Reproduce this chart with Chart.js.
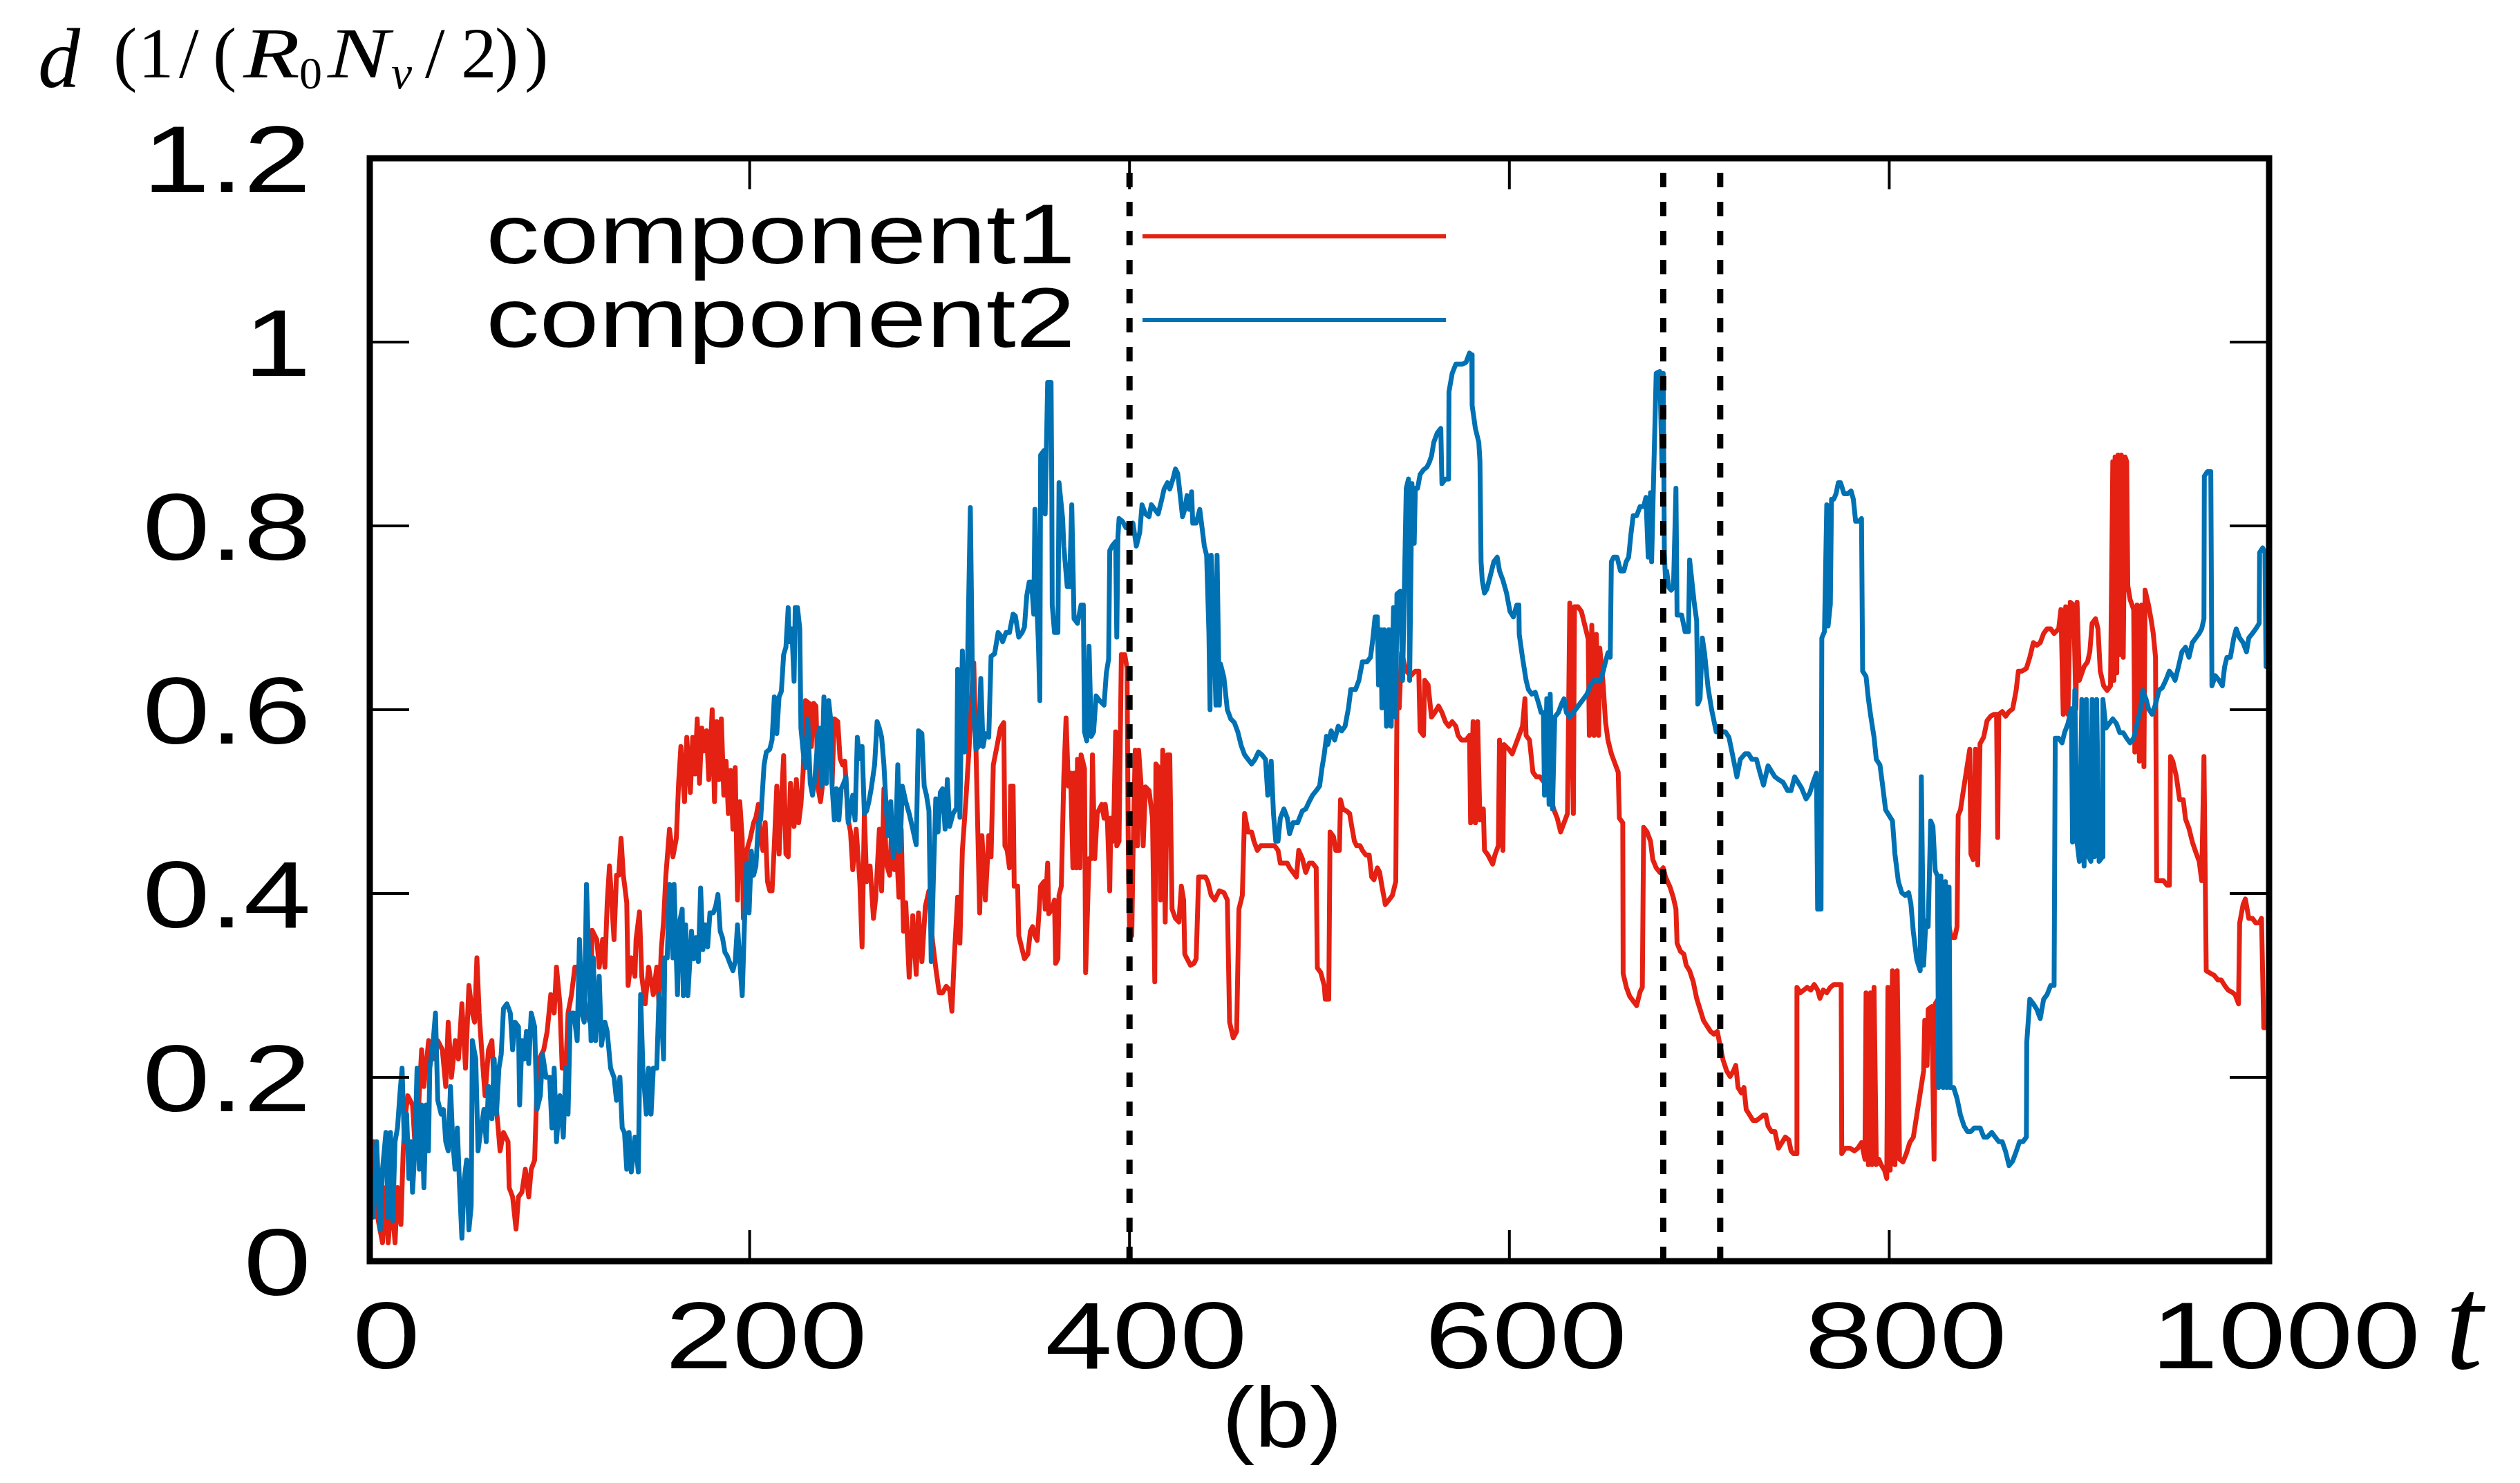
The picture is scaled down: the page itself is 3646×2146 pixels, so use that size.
<!DOCTYPE html>
<html>
<head>
<meta charset="utf-8">
<script src="https://cdn.jsdelivr.net/npm/chart.js@4.4.1/dist/chart.umd.min.js"></script>
<style>
  html, body { margin: 0; padding: 0; background: #fff; }
  canvas { display: block; }
</style>
</head>
<body>
<canvas id="chart" width="3646" height="2146"></canvas>
<script>
const xTicks = [0, 200, 400, 600, 800, 1000];
const xTickLabels = ["0", "200", "400", "600", "800", "1000"];
const yTicks = [0, 0.2, 0.4, 0.6, 0.8, 1, 1.2];
const yTickLabels = ["0", "0.2", "0.4", "0.6", "0.8", "1", "1.2"];
const markerT = [400, 681, 711];
const seriesNames = ["component1", "component2"];

// [t, d]
const comp1 = [
  [0,0.13],[2,0.13],[3,0.06],[6.7,0.02],[8.5,0.08],[9.7,0.02],[11.5,0.07],[13.3,0.02],[14.6,0.08],[16.4,0.04],[17.6,0.12],[18.8,0.16],[20,0.18],[22.5,0.17],[23.7,0.13],[25.5,0.16],[27.3,0.23],[28.5,0.19],[31,0.24],[33.4,0.22],[35.8,0.24],[38.2,0.23],[40,0.19],[41.3,0.26],[43,0.2],[45,0.24],[46.7,0.22],[48.5,0.28],[50.4,0.21],[52.2,0.3],[54,0.27],[55.2,0.26],[56.4,0.33],[57.6,0.27],[58.9,0.23],[60.7,0.18],[62.5,0.23],[64.3,0.24],[65.5,0.19],[67.4,0.15],[68.6,0.12],[70.4,0.14],[72.8,0.13],[73.4,0.08],[75.2,0.07],[77,0.035],[78.3,0.07],[80.1,0.075],[81.9,0.1],[83.7,0.07],[85,0.1],[86.8,0.11],[88,0.19],[89.2,0.22],[91.6,0.23],[93.4,0.25],[95.3,0.29],[97.1,0.27],[98.3,0.32],[100.1,0.28],[101.3,0.21],[103.2,0.21],[104.4,0.27],[106.2,0.29],[108,0.32],[109.8,0.32],[111.7,0.3],[114.1,0.27],[115.9,0.26],[117.1,0.36],[119.5,0.35],[120.8,0.32],[122.6,0.35],[123.8,0.32],[125,0.39],[126.2,0.43],[127.4,0.39],[128.6,0.35],[129.9,0.42],[131.1,0.42],[132.3,0.46],[133.5,0.42],[135.3,0.39],[136,0.3],[137.7,0.33],[139.6,0.31],[140.2,0.35],[142,0.38],[143.2,0.31],[145,0.28],[146.8,0.32],[149.3,0.29],[151.1,0.32],[152.3,0.28],[153.5,0.34],[154.7,0.37],[155.9,0.42],[157.8,0.47],[159.6,0.44],[161.4,0.46],[162.6,0.52],[163.8,0.56],
  [165.7,0.5],[166.9,0.57],[168.8,0.51],[170,0.57],[171.2,0.53],[172.4,0.59],[173.6,0.52],[174.8,0.58],[176,0.555],[177.3,0.577],[178.5,0.524],[180.3,0.6],[181.5,0.5],[182.7,0.587],[183.9,0.524],[185.1,0.59],[186.4,0.507],[187.6,0.544],[188.8,0.487],[190,0.534],[191.2,0.47],[192.4,0.537],[193.6,0.393],[194.8,0.5],[196.1,0.46],[196.7,0.373],[198.5,0.447],[200.3,0.46],[202.1,0.477],[203.3,0.483],[204.6,0.497],[205.8,0.46],[207,0.447],[208.2,0.477],[209.4,0.413],[210.6,0.403],[211.8,0.403],[213,0.453],[214.3,0.517],[215.5,0.443],[216.7,0.5],[217.9,0.55],[219.1,0.443],[220.3,0.44],[221.5,0.52],[223.4,0.473],[224.6,0.524],[225.8,0.477],[227,0.497],[228.2,0.534],[229.4,0.61],[231.3,0.607],[232.5,0.56],[233.7,0.607],[234.9,0.604],[236.1,0.514],[237.3,0.5],[238.5,0.52],[239.7,0.534],[241,0.547],[242.2,0.58],[243.4,0.52],[244.6,0.59],[246.4,0.587],[247.6,0.547],[248.9,0.54],[250.1,0.544],[251.9,0.48],[253.1,0.467],[254.3,0.426],[256.1,0.47],[258,0.413],[259.2,0.342],[260.4,0.487],[261.6,0.413],[263.4,0.43],[265.2,0.373],[266.4,0.396],[268.3,0.47],[269.5,0.403],[270.7,0.514],[271.9,0.433],[273.7,0.42],[274.9,0.477],[276.2,0.426],[277.4,0.447],[278.6,0.396],[279.8,0.47],[281,0.359],[282.2,0.39],[284,0.309],[285.9,0.376],[287.7,0.312],[288.9,0.379],[290.7,0.326],[292.5,0.386],[294.4,0.403],[296.2,0.35],[298,0.319],[299.8,0.292],[301.6,0.292],[303.5,0.299],[305.3,0.295],[306.5,0.272],[307.7,0.329],[309.5,0.396],[310.7,0.346],[312,0.447],[313.8,0.5],[315.6,0.56],[316.8,0.614],[318,0.651],[319.2,0.554],[321.1,0.379],[322.3,0.463],[324.1,0.393],[325.9,0.463],[327.1,0.44],[328.3,0.54],[330.2,0.56],[332,0.58],
  [333.8,0.586],[334.4,0.452],[335.6,0.447],[336.8,0.428],[337.4,0.517],[338.7,0.517],[339.3,0.408],[341.1,0.408],[341.7,0.354],[343.5,0.339],[344.7,0.329],[346.5,0.334],[347.8,0.359],[349,0.364],[350.2,0.354],[351.4,0.349],[352.6,0.388],[353.2,0.408],[355,0.413],[355.6,0.383],[356.9,0.433],[357.5,0.378],[359.3,0.383],[360.5,0.393],[361.1,0.324],[362.3,0.329],[362.9,0.398],[364.1,0.408],[365.4,0.526],[366.6,0.591],[367.8,0.517],[369,0.531],[370.2,0.428],[370.8,0.531],[372,0.428],[372.6,0.546],[373.9,0.428],[374.5,0.551],[376.3,0.536],[376.9,0.314],[378.7,0.438],[379.9,0.438],[380.5,0.551],[381.7,0.438],[383,0.487],[384.2,0.492],[385.4,0.497],[386.6,0.482],[387.2,0.497],[388.4,0.477],[389.6,0.403],[390.2,0.482],[391.5,0.457],[392.7,0.576],[393.3,0.452],[394.5,0.457],[395.7,0.66],[397.5,0.66],[398.7,0.645],[399.3,0.462],[400,0.359],[401.2,0.354],[401.8,0.438],[403,0.556],[404.2,0.452],[404.8,0.556],[406,0.521],[407.2,0.452],[408.4,0.516],[410.3,0.512],[412.1,0.482],[413.3,0.304],[413.9,0.541],[415.7,0.536],[416.3,0.393],[417.5,0.556],[418.8,0.369],[420,0.551],[421.2,0.551],[422.4,0.383],[424.2,0.373],[426,0.369],[427.3,0.408],[428.5,0.393],[429.1,0.334],[430.3,0.329],[432.1,0.322],[433.9,0.324],[435.1,0.329],[436.4,0.418],[438.2,0.418],[440,0.418],[441.2,0.413],[443,0.398],[444.9,0.393],[447.3,0.403],[449.7,0.401],[451.5,0.393],[452.7,0.26],[454.6,0.243],[456.4,0.25],[457.6,0.383],[459.4,0.398],[460.6,0.487],[462.4,0.467],[464.3,0.467],[465.5,0.457],[467.3,0.447],[469.1,0.452],[471.6,0.452],[474,0.452],[476.4,0.452],[478.2,0.447],[479.4,0.433],[481.3,0.433],[483.1,0.433],[484.3,0.428],[486.1,0.423],[487.9,0.418],[489.1,0.447],[491,0.438],[492.8,0.423],[494.6,0.433],[496.4,0.433],[498.3,0.428],[498.9,0.319],[500.7,0.314],[502.5,0.3],[503.1,0.285],[504.9,0.285],
  [505.6,0.467],[507.4,0.462],[508.6,0.447],[510.5,0.447],[511.1,0.502],[512.3,0.492],[514.1,0.49],[515.9,0.487],[517.1,0.472],[518.4,0.457],[519.6,0.452],[521.4,0.452],[522.6,0.447],[524.4,0.442],[526.2,0.442],[527.5,0.418],[528.7,0.415],[530.5,0.428],[531.7,0.423],[532.9,0.408],[534.7,0.388],[536.6,0.393],[538.4,0.398],[540.2,0.413],[540.8,0.602],[542,0.602],[543.2,0.662],[545.7,0.642],[548.1,0.637],[550.5,0.642],[552.3,0.642],[553,0.577],[554.8,0.572],[555.4,0.632],[557.2,0.627],[559,0.592],[560.8,0.597],[562.7,0.604],[564.5,0.597],[566.3,0.587],[568.1,0.582],[569.9,0.587],[571.8,0.582],[573,0.572],[574.8,0.567],[577.2,0.567],[579,0.572],[579.6,0.477],[580.9,0.587],[582.1,0.477],[583.3,0.587],[584.5,0.48],[586.3,0.492],[586.9,0.447],[588.7,0.442],[591.2,0.432],[592.4,0.442],[594.2,0.452],[594.8,0.567],[596.6,0.447],[597.2,0.562],[599.7,0.557],[601.5,0.552],[603.3,0.562],[605.1,0.572],[606.9,0.582],[608.2,0.612],[608.8,0.572],[610.6,0.567],[612.4,0.532],[614.2,0.527],[616.1,0.527],[617.9,0.522],[619.7,0.517],[621.5,0.507],[623.3,0.492],[625.2,0.482],[627,0.467],[628.8,0.477],[630.6,0.487],[631.8,0.716],[633.7,0.487],[634.3,0.712],[636.1,0.712],[637.9,0.707],[639.7,0.692],[641.5,0.677],[642.1,0.572],[643.4,0.692],[644.6,0.572],[645.8,0.682],[647,0.572],[647.6,0.667],[649.4,0.627],[650.6,0.587],[651.9,0.567],[653.7,0.552],[655.5,0.542],[657.3,0.532],[657.9,0.482],[659.7,0.477],[659.9,0.313],[661.6,0.298],[663.4,0.288],[665.2,0.283],[667,0.278],[668.8,0.293],[670,0.298],[670.7,0.472],[672.5,0.467],[674.3,0.457],[675.5,0.437],[677.3,0.428],[679.2,0.423],[681,0.428],[682.2,0.418],
  [684.6,0.407],[686.4,0.395],[687.7,0.383],[688.3,0.346],[690.1,0.337],[691.9,0.334],[693.1,0.322],[694.9,0.316],[696.8,0.304],[698.6,0.286],[700.4,0.274],[702.2,0.262],[704,0.256],[705.9,0.25],[707.7,0.247],[709.5,0.25],[710.7,0.237],[712.5,0.219],[714.4,0.207],[716.2,0.201],[718,0.207],[719.2,0.213],[720.4,0.189],[722.2,0.183],[723.5,0.189],[724.7,0.165],[726.5,0.159],[728.3,0.153],[730.1,0.153],[732,0.156],[733.8,0.159],[735,0.159],[736.2,0.147],[738,0.141],[739.8,0.141],[741.7,0.123],[743.5,0.129],[745.3,0.135],[747.1,0.132],[748.3,0.12],[749.5,0.117],[751.1,0.117],[751.4,0.298],[753.2,0.292],[755,0.295],[756.8,0.298],[758.7,0.295],[760.5,0.301],[762.3,0.295],[763.5,0.286],[765.3,0.295],[767.1,0.292],[769,0.298],[770.8,0.301],[772.6,0.301],[774.7,0.301],[775,0.117],[776.9,0.123],[779.3,0.123],[781.7,0.12],[783.5,0.123],[785.4,0.129],[787.2,0.111],[787.8,0.292],[789,0.105],[790.2,0.292],[790.8,0.105],[792,0.298],[793.2,0.105],[794.5,0.111],[795.7,0.105],[797.5,0.099],[798.7,0.09],[799.3,0.298],[800.5,0.099],[801.7,0.316],[803,0.105],[804.2,0.316],[805.4,0.111],[807.2,0.108],[809,0.117],[810.8,0.129],[812.7,0.135],[814.5,0.159],[816.3,0.183],[818.1,0.207],[818.7,0.262],[819.9,0.213],[820.5,0.274],[822.4,0.277],[823.6,0.111],[824.2,0.28],[826,0.286],[827.2,0.268],[829,0.195],[830.9,0.195],[831.5,0.364],[832.7,0.352],[834.5,0.352],[835.7,0.364],[836.3,0.485],[837.5,0.491],[838.8,0.509],[840.6,0.533],[842.4,0.557],[843,0.443],[844.2,0.437],[845.4,0.557],[846.6,0.431],[847.8,0.563],[849.7,0.57],[851.5,0.588],
  [853.4,0.593],[855.2,0.595],[856.5,0.595],[857.1,0.461],[857.7,0.595],[859.5,0.598],[861.3,0.593],[863.1,0.598],[865,0.601],[866.8,0.621],[868,0.642],[869.8,0.642],[872.2,0.645],[874,0.657],[875.9,0.673],[877.7,0.67],[879.5,0.673],[881.3,0.683],[883.1,0.688],[885,0.688],[886.8,0.683],[889.2,0.688],[890.4,0.709],[891.6,0.595],[892.9,0.712],[894.1,0.595],[895.3,0.717],[897.1,0.714],[898.3,0.601],[898.9,0.717],[900.1,0.632],[902.6,0.647],[904.4,0.652],[905.6,0.663],[906.8,0.694],[908.6,0.699],[909.9,0.688],[911.1,0.642],[912.9,0.626],[914.7,0.621],[916.5,0.626],[917.7,0.87],[918.3,0.632],[918.9,0.875],[919.8,0.64],[920.5,0.877],[921.4,0.66],[922.2,0.877],[923.2,0.657],[924.2,0.875],[925,0.87],[925.6,0.735],[926.8,0.72],[928.7,0.709],[929.3,0.554],[930.5,0.714],[931.7,0.544],[932.9,0.714],[934.1,0.538],[934.7,0.73],[936.5,0.714],[937.8,0.699],[939,0.683],[940.2,0.657],[940.8,0.414],[942.6,0.414],[944.4,0.414],[946.3,0.409],[947.5,0.409],[948.1,0.549],[949.3,0.544],[951.1,0.528],[952.9,0.502],[954.8,0.502],[956,0.481],[957.8,0.471],[959.6,0.456],[961.4,0.445],[963.2,0.435],[964.5,0.414],[965.7,0.549],[966.9,0.316],[969.3,0.313],[971.1,0.311],[973,0.306],[974.8,0.306],[976.6,0.3],[978.4,0.295],[980.2,0.293],[982.1,0.29],[983.9,0.28],[984.5,0.368],[986.3,0.388],[987.5,0.394],[989.3,0.373],[991.2,0.373],[993,0.368],[994.8,0.368],[996,0.373],[997.2,0.254],[1000,0.254]
];

const comp2 = [
  [0,0.1],[2,0.048],[3.6,0.13],[5.5,0.034],[6.7,0.1],[8.5,0.14],[9.7,0.048],[10.9,0.14],[12.1,0.044],[13.3,0.13],[14.6,0.145],[15.8,0.18],[17,0.21],[18.2,0.13],[19.4,0.16],[20.6,0.09],[21.8,0.13],[22.5,0.075],[23.7,0.12],[24.9,0.21],[26.1,0.1],[27.3,0.17],[28.5,0.08],[29.7,0.17],[30.9,0.12],[31.6,0.21],[32.2,0.22],[33.4,0.24],[34.6,0.27],[35.8,0.175],[37.6,0.16],[38.8,0.165],[40,0.13],[41.3,0.12],[42.5,0.19],[43.7,0.13],[44.9,0.1],[46.1,0.145],[47.3,0.08],[48.5,0.025],[49.8,0.09],[51,0.11],[52.2,0.034],[53.4,0.06],[54,0.24],[55.8,0.22],[57,0.12],[58.3,0.14],[60.1,0.165],[61.3,0.13],[62.5,0.19],[64.3,0.155],[65.5,0.22],[66.7,0.16],[68,0.21],[69.2,0.225],[70.4,0.275],[72.2,0.28],[74,0.27],[75.2,0.23],[76.5,0.26],[78.3,0.255],[78.9,0.17],[80.1,0.24],[81.3,0.22],[82.5,0.25],[83.7,0.215],[85,0.27],[86.8,0.255],[88,0.165],[89.8,0.18],[91,0.225],[92.8,0.2],[94.7,0.2],[95.9,0.145],[97.1,0.21],[98.3,0.13],[100.1,0.18],[101.9,0.135],[103.2,0.21],[104.4,0.16],[105.6,0.27],[107.4,0.27],[109.2,0.24],[110.4,0.35],[111.7,0.27],[112.9,0.26],[114.1,0.41],[115.3,0.33],[116.5,0.24],[117.7,0.33],[118.9,0.24],[120.8,0.31],[122,0.235],[123.8,0.26],[125,0.25],[126.8,0.21],[128.6,0.2],[129.9,0.175],[131.7,0.2],[132.9,0.145],[134.1,0.14],[135.3,0.1],[136.5,0.14],[137.7,0.097],[139.6,0.135],[141.4,0.097],[142.6,0.29],[143.8,0.21],[145.6,0.16],[146.8,0.21],[148.1,0.16],[149.3,0.21],[151.1,0.21],[152.3,0.29],[153.5,0.27],[154.7,0.22],[155.3,0.33],[156.6,0.33],[157.8,0.41],[159.6,0.33],[160.2,0.41],[162,0.29],[163.2,0.37],
  [164.5,0.383],[165.1,0.289],[166.3,0.366],[167.5,0.289],[169.4,0.359],[170.6,0.329],[171.8,0.352],[173,0.326],[174.2,0.406],[175.4,0.339],[176.6,0.366],[177.9,0.342],[179.1,0.379],[180.9,0.379],[182.1,0.386],[183.3,0.399],[184.5,0.359],[185.7,0.352],[187,0.336],[188.2,0.332],[190,0.322],[191.2,0.316],[192.4,0.326],[193.6,0.366],[194.8,0.326],[196.1,0.289],[197.3,0.369],[198.5,0.433],[199.7,0.379],[200.9,0.446],[202.1,0.42],[203.3,0.43],[204.6,0.477],[205.8,0.48],[207,0.52],[207.6,0.54],[208.8,0.554],[210.6,0.557],[211.8,0.567],[213,0.614],[214.3,0.574],[215.5,0.614],[216.7,0.62],[217.9,0.66],[219.1,0.668],[220.3,0.711],[220.9,0.674],[222.2,0.688],[223.4,0.631],[224,0.711],[225.2,0.711],[226.4,0.688],[227,0.58],[228.2,0.554],[229.4,0.537],[230.6,0.59],[231.9,0.52],[233.1,0.507],[234.3,0.524],[235.5,0.557],[236.7,0.58],[237.9,0.517],[239.1,0.614],[240.4,0.52],[241.6,0.61],[242.8,0.587],[243.4,0.517],[244.6,0.48],[245.8,0.514],[247,0.48],[248.2,0.514],[249.5,0.52],[250.7,0.527],[251.9,0.477],[253.1,0.493],[254.3,0.507],[255.5,0.48],[256.7,0.57],[258,0.547],[259.2,0.56],[260.4,0.487],[261.6,0.49],[262.8,0.5],[264,0.514],[265.8,0.54],[267.1,0.587],[268.3,0.58],[269.5,0.57],[270.7,0.54],[271.9,0.493],[273.1,0.463],[274.3,0.5],[275.6,0.44],[276.8,0.453],[278,0.54],[279.2,0.446],[280.4,0.517],[282.2,0.5],[284,0.487],[285.9,0.47],[287.7,0.453],[288.9,0.577],[290.7,0.574],[291.9,0.517],[293.1,0.507],[294.4,0.49],[295.6,0.326],[296.8,0.42],[298,0.503],[299.2,0.467],[300.4,0.51],[301.6,0.514],[302.9,0.47],[304.1,0.524],[305.3,0.473],[307.1,0.487],[308.9,0.493],[309.5,0.644],[310.7,0.483],[312,0.664],[313.2,0.554],[314.4,0.614],[316.2,0.82],[317.4,0.62],[319.2,0.557],[320.5,0.56],[321.7,0.634],[322.9,0.56],[324.1,0.574],[325.9,0.57],[327.1,0.658],[329,0.661],[330.8,0.684],[332,0.681],
  [333.2,0.674],[335,0.684],[336.8,0.684],[338.7,0.704],[339.9,0.702],[341.7,0.679],[343.5,0.684],[344.7,0.69],[345.9,0.724],[347.2,0.739],[348.4,0.739],[349.6,0.704],[350.2,0.818],[351.4,0.704],[352,0.674],[352.8,0.61],[353.2,0.877],[355,0.882],[355.6,0.813],[356.9,0.956],[358.7,0.956],[359.1,0.833],[359.3,0.714],[360.5,0.684],[362.3,0.684],[362.9,0.847],[364.8,0.808],[365.4,0.778],[367.2,0.734],[368.4,0.734],[369.6,0.823],[370.8,0.699],[372.6,0.694],[374.5,0.714],[375.7,0.714],[376.3,0.576],[377.5,0.566],[378.7,0.669],[379.9,0.571],[381.1,0.576],[382.4,0.615],[384.2,0.61],[386.6,0.605],[387.8,0.64],[389,0.655],[389.6,0.773],[390.8,0.778],[392.7,0.783],[393.3,0.679],[393.9,0.788],[394.5,0.808],[396.3,0.805],[398.1,0.798],[400,0.798],[401.8,0.803],[403.6,0.778],[405.4,0.793],[406.6,0.823],[408.4,0.813],[410.3,0.81],[411.5,0.823],[413.3,0.818],[415.1,0.813],[416.9,0.828],[418.2,0.84],[420,0.847],[421.2,0.84],[423,0.852],[424.2,0.862],[425.4,0.857],[426.7,0.833],[427.9,0.81],[429.1,0.818],[430.3,0.833],[431.5,0.818],[432.7,0.837],[433.3,0.803],[435.1,0.803],[437,0.818],[438.2,0.798],[439.4,0.778],[440.6,0.768],[441.8,0.684],[442.4,0.6],[443,0.768],[444.2,0.704],[445.5,0.605],[446.1,0.768],[447.3,0.605],[447.9,0.65],[449.7,0.635],[451.5,0.6],[453.3,0.59],[455.2,0.586],[457,0.576],[458.8,0.561],[460.6,0.551],[462.4,0.546],[464.3,0.541],[466.1,0.546],[467.9,0.554],[469.7,0.551],[471.6,0.546],[472.8,0.507],[474.6,0.544],[475.8,0.487],[477,0.457],[478.2,0.457],[479.4,0.482],[481.3,0.492],[483.1,0.482],[484.3,0.465],[486.1,0.477],[488.5,0.477],[491,0.49],[492.8,0.492],[494.6,0.5],[496.4,0.507],[498.3,0.512],[500.1,0.517],[501.3,0.536],[502.5,0.551],[503.7,0.571],
  [504.4,0.562],[506.2,0.577],[508,0.567],[509.9,0.582],[511.7,0.577],[513.5,0.582],[515.3,0.602],[516.5,0.622],[519,0.622],[520.8,0.632],[522.6,0.652],[525,0.652],[526.9,0.657],[528.1,0.677],[529.3,0.701],[530.5,0.701],[531.1,0.627],[532.3,0.687],[532.9,0.602],[534.1,0.687],[535.3,0.582],[536.6,0.687],[537.8,0.582],[539,0.711],[540.2,0.592],[540.8,0.726],[542.6,0.729],[543.8,0.632],[545.7,0.841],[546.9,0.851],[547.5,0.632],[548.7,0.846],[549.9,0.781],[550.5,0.841],[551.7,0.841],[553,0.856],[554.8,0.861],[556.6,0.864],[557.8,0.869],[559,0.876],[560.2,0.891],[562,0.901],[563.9,0.906],[564.5,0.846],[566.3,0.851],[568,0.851],[568.2,0.946],[569.9,0.966],[571.8,0.976],[573.6,0.976],[575.4,0.976],[577.2,0.978],[579,0.988],[580.2,0.986],[580.4,0.931],[582.1,0.906],[583.9,0.891],[584.5,0.871],[585.1,0.761],[585.7,0.741],[586.9,0.727],[588.1,0.731],[590,0.746],[591.8,0.761],[593.6,0.766],[594.8,0.751],[596.6,0.741],[598.5,0.727],[600.3,0.707],[602.1,0.701],[603.9,0.714],[605,0.714],[605.2,0.682],[606.9,0.657],[608.8,0.632],[610,0.622],[611.8,0.617],[613.6,0.619],[615.4,0.607],[616.7,0.597],[617.9,0.597],[618.5,0.507],[619.7,0.612],[620.9,0.497],[621.5,0.617],[622.7,0.492],[623.9,0.592],[625.8,0.597],[627.6,0.607],[628.8,0.612],[630,0.597],[631.8,0.592],[633.7,0.597],[635.5,0.602],[637.3,0.607],[639.1,0.612],[640.9,0.617],[642.8,0.627],[644.6,0.632],[646.4,0.632],[648.2,0.632],[649.4,0.642],[650.6,0.652],[651.9,0.662],[653.1,0.657],[653.7,0.761],[654.9,0.766],[656.7,0.766],[658.5,0.751],[660.3,0.751],[661.5,0.761],[662.8,0.766],[664,0.791],[665.2,0.811],[667,0.811],[668.8,0.821],[670.7,0.821],[671.9,0.831],[673.1,0.766],[674.3,0.836],[674.9,0.761],[676.1,0.866],[677.3,0.966],[679.2,0.968],[680.4,0.861],[681,0.966],[681.6,0.771],[682.2,0.741],
  [682.8,0.751],[684,0.733],[685.2,0.73],[686.4,0.733],[687.7,0.841],[688.3,0.703],[690.7,0.703],[692.5,0.685],[694.3,0.685],[694.9,0.763],[697.4,0.715],[698.6,0.697],[699.2,0.606],[700.4,0.612],[701.6,0.678],[702.8,0.661],[704.6,0.624],[706.5,0.6],[708.9,0.576],[711.3,0.576],[713.7,0.576],[715.6,0.57],[717.4,0.552],[719.8,0.527],[721.6,0.546],[724.1,0.552],[725.9,0.552],[727.7,0.546],[730.1,0.546],[732,0.531],[733.8,0.518],[736.2,0.539],[738,0.533],[739.8,0.527],[741.7,0.524],[744.1,0.521],[746.5,0.512],[748.3,0.512],[750.2,0.527],[752,0.521],[753.8,0.515],[756.2,0.503],[758.1,0.509],[759.9,0.521],[761.7,0.531],[762.3,0.383],[764.1,0.383],[764.5,0.678],[765.9,0.685],[767.1,0.823],[767.8,0.691],[769,0.715],[769.6,0.829],[770.8,0.829],[772,0.835],[773.2,0.847],[774.4,0.847],[776.2,0.835],[778.1,0.835],[779.9,0.838],[781.1,0.829],[782.3,0.805],[784.1,0.805],[785.4,0.808],[786,0.642],[787.8,0.636],[789,0.612],[790.2,0.594],[792,0.57],[793.2,0.546],[795.1,0.54],[796.3,0.521],[798.1,0.491],[799.9,0.485],[801.7,0.479],[803,0.443],[804.8,0.413],[806.6,0.401],[808.4,0.398],[810.2,0.401],[811.4,0.389],[812.7,0.358],[814.5,0.328],[816.3,0.316],[816.9,0.527],[818.1,0.322],[819.3,0.37],[820.5,0.364],[821.8,0.479],[823,0.473],[824.2,0.425],[825.4,0.419],[826,0.189],[827.2,0.419],[828.4,0.189],[829.6,0.413],[830.3,0.189],[831.5,0.407],[832.1,0.189],[833.9,0.189],[835.7,0.177],[837.5,0.159],[839.4,0.147],[841.2,0.141],[843,0.141],
  [844.8,0.145],[847.9,0.145],[849.8,0.135],[851.6,0.135],[854,0.14],[855.8,0.135],[857.7,0.13],[859.5,0.13],[861.3,0.119],[863.1,0.104],[865,0.109],[866.8,0.119],[868.6,0.13],[870.4,0.13],[872.2,0.135],[872.4,0.238],[874,0.285],[875.9,0.28],[877.7,0.274],[879.5,0.264],[881.3,0.285],[883.1,0.29],[885,0.3],[886.8,0.3],[887.4,0.569],[889.2,0.569],[891,0.564],[892.3,0.575],[894.1,0.585],[895.9,0.601],[896.5,0.456],[897.7,0.621],[898.9,0.456],[900.1,0.435],[901.4,0.611],[902.6,0.43],[903.8,0.611],[905,0.44],[906.2,0.435],[906.8,0.611],[908,0.44],[909.2,0.611],[910.5,0.435],[912.3,0.44],[912.5,0.611],[914.1,0.58],[915.9,0.585],[917.7,0.59],[919.6,0.585],[921.4,0.575],[923.2,0.575],[925,0.569],[926.8,0.564],[928.7,0.569],[930.5,0.585],[932.3,0.601],[933.5,0.621],[935.3,0.611],[936.5,0.601],[938.4,0.595],[940.2,0.606],[942,0.621],[943.8,0.624],[945.6,0.632],[947.5,0.642],[949.3,0.637],[950.5,0.632],[952.3,0.647],[954.1,0.663],[956,0.668],[957.8,0.657],[959.6,0.673],[961.4,0.678],[963.2,0.683],[964.5,0.688],[965.7,0.699],[965.9,0.854],[967.5,0.859],[969.3,0.859],[969.9,0.626],[971.7,0.637],[973.6,0.632],[975.4,0.626],[976.6,0.647],[977.8,0.657],[979.6,0.657],[981.4,0.678],[982.7,0.688],[984.5,0.678],[986.3,0.673],[988.1,0.663],[989.3,0.678],[991.2,0.683],[993,0.688],[994.8,0.694],[995,0.771],[996.6,0.776],[997.8,0.771],[998.4,0.647],[1000,0.65]
];

const RED = "#e42112";
const BLUE = "#0071b3";
const SANS = '"Liberation Sans", Arial, Helvetica, sans-serif';
const SERIF = '"Liberation Serif", "Times New Roman", serif';

function toPoints(pairs) {
    return pairs.map(p => ({ x: p[0], y: p[1] }));
}

// gnuplot's Helvetica here is drawn wide, so text gets a horizontal stretch
function drawText(ctx, text, x, y, font, align, sx) {
    ctx.save();
    ctx.font = font;
    ctx.textAlign = align;
    ctx.textBaseline = "alphabetic";
    ctx.fillStyle = "#000";
    ctx.translate(x, y);
    ctx.scale(sx || 1, 1);
    ctx.fillText(text, 0, 0);
    ctx.restore();
}

const framePlugin = {
    id: "frame",
    afterDraw(chart) {
        const { ctx, chartArea: a } = chart;
        const xs = chart.scales.x;
        const ys = chart.scales.y;

        ctx.save();
        ctx.strokeStyle = "#000";
        ctx.lineWidth = 4;
        ctx.beginPath();
        xTicks.forEach(v => {
            const px = xs.getPixelForValue(v);
            ctx.moveTo(px, a.bottom);
            ctx.lineTo(px, a.bottom - 45);
            ctx.moveTo(px, a.top);
            ctx.lineTo(px, a.top + 45);
        });
        yTicks.forEach(v => {
            const py = ys.getPixelForValue(v);
            ctx.moveTo(a.left, py);
            ctx.lineTo(a.left + 57, py);
            ctx.moveTo(a.right, py);
            ctx.lineTo(a.right - 57, py);
        });
        ctx.stroke();
        ctx.lineWidth = 9;
        ctx.strokeRect(a.left, a.top, a.right - a.left, a.bottom - a.top);
        ctx.restore();

        // tick labels
        const tickFont = "138px " + SANS;
        xTicks.forEach((v, i) => {
            drawText(ctx, xTickLabels[i], xs.getPixelForValue(v) + 24, 1980, tickFont, "center", 1.27);
        });
        yTicks.forEach((v, i) => {
            drawText(ctx, yTickLabels[i], 450, ys.getPixelForValue(v) + 49, tickFont, "right", 1.27);
        });

        // legend
        const legendFont = "123px " + SANS;
        const rows = [342, 463];
        [0, 1].forEach(i => {
            const ds = chart.data.datasets[i];
            drawText(ctx, ds.label, 1556, rows[i] + 39, legendFont, "right", 1.26);
            ctx.save();
            ctx.strokeStyle = ds.borderColor;
            ctx.lineWidth = 6;
            ctx.beginPath();
            ctx.moveTo(1653, rows[i]);
            ctx.lineTo(2092, rows[i]);
            ctx.stroke();
            ctx.restore();
        });

        // y axis title: d (1/(R_0 N_v/2))
        const it = sz => "italic " + sz + "px " + SERIF;
        const rm = sz => sz + "px " + SERIF;
        drawText(ctx, "d", 55, 126, it(122), "left");
        drawText(ctx, "(", 164, 112, rm(103), "left");
        drawText(ctx, "1", 200, 112, rm(103), "left");
        drawText(ctx, "/", 259, 112, rm(103), "left");
        drawText(ctx, "(", 308, 112, rm(103), "left");
        drawText(ctx, "R", 352, 112, it(103), "left", 1.3);
        drawText(ctx, "0", 433, 128, rm(66), "left");
        drawText(ctx, "N", 474, 112, it(103), "left", 1.3);
        drawText(ctx, "v", 566, 128, it(68), "left");
        drawText(ctx, "/", 615, 112, rm(103), "left");
        drawText(ctx, "2", 667, 112, rm(103), "left");
        drawText(ctx, ")", 716, 112, rm(103), "left");
        drawText(ctx, ")", 759, 112, rm(103), "left");

        // x axis title and panel tag
        drawText(ctx, "t", 3538, 1980, it(195), "left");
        drawText(ctx, "(b)", 1855, 2094, "124px " + SANS, "center", 1.15);
    }
};

const datasets = [
    {
        label: seriesNames[0],
        data: toPoints(comp1),
        borderColor: RED,
        borderWidth: 7,
        order: 2
    },
    {
        label: seriesNames[1],
        data: toPoints(comp2),
        borderColor: BLUE,
        borderWidth: 7,
        order: 1
    }
].concat(markerT.map(t => ({
    label: "",
    data: [{ x: t, y: 1.2 }, { x: t, y: 0 }],
    borderColor: "#000",
    borderWidth: 9,
    borderDash: [21, 21],
    borderDashOffset: 21,
    order: 0
})));

new Chart(document.getElementById("chart"), {
    type: "line",
    data: { datasets },
    options: {
        responsive: false,
        animation: false,
        devicePixelRatio: 1,
        parsing: false,
        layout: {
            padding: { left: 535, right: 363, top: 229, bottom: 321 }
        },
        elements: {
            point: { radius: 0 },
            line: { tension: 0, borderJoinStyle: "round", borderCapStyle: "butt" }
        },
        plugins: {
            legend: { display: false },
            tooltip: { enabled: false }
        },
        scales: {
            x: { type: "linear", min: 0, max: 1000, display: false },
            y: { type: "linear", min: 0, max: 1.2, display: false }
        }
    },
    plugins: [framePlugin]
});
</script>
</body>
</html>
